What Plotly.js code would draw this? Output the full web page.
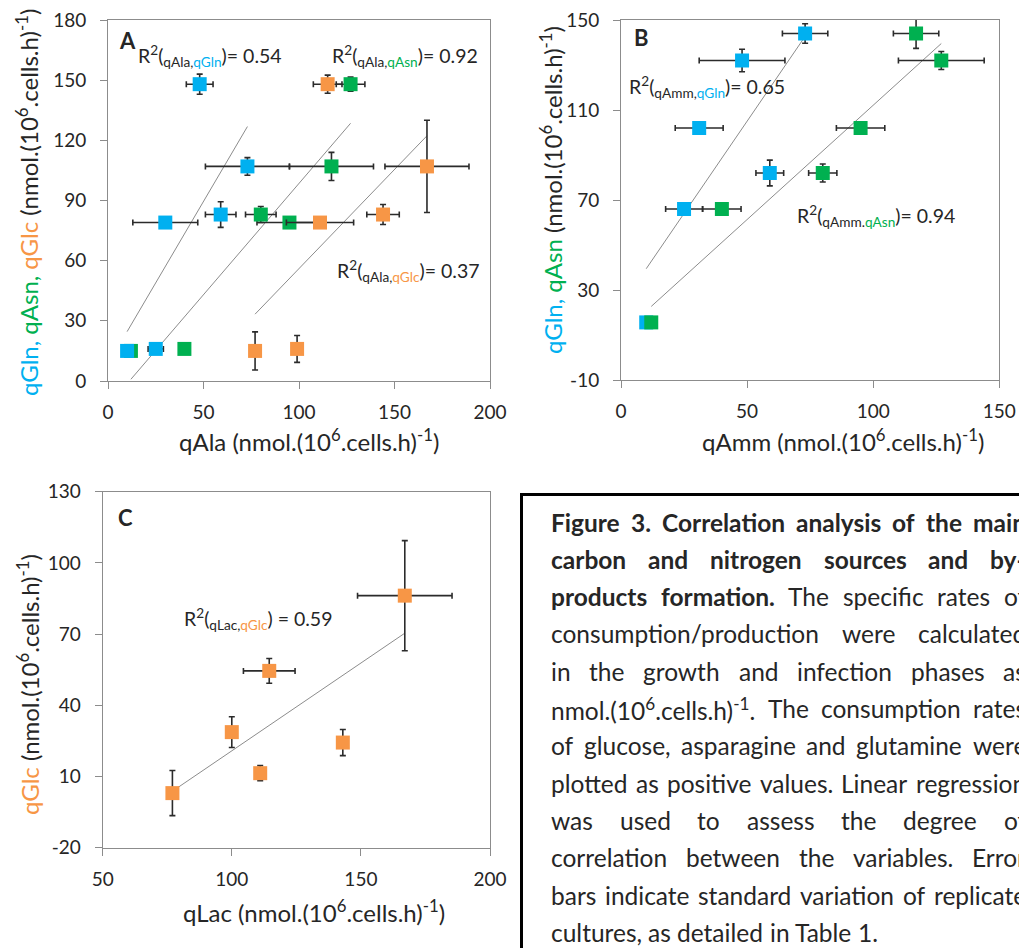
<!DOCTYPE html>
<html><head><meta charset="utf-8">
<script src="https://cdn.plot.ly/plotly-3.0.1.min.js"></script>
<style>html,body{margin:0;padding:0;background:#fff}</style>
</head><body><div id="chart" style="width:1019px;height:948px"></div>
<script>
// ---------- DATA ----------
// Panel A: qAla (x) vs qGln / qAsn / qGlc (y)
const A_gln_x  = [48, 73, 30, 59, 10, 25];
const A_gln_y  = [148, 107, 79, 83, 15, 16];
const A_gln_ex = [7, 22, 17, 8, 0, 4];
const A_gln_ey = [5, 4.4, 0, 6.4, 0, 0];

const A_asn_x  = [127, 117, 80, 95, 40, 12];
const A_asn_y  = [148, 107, 83, 79, 16, 15];
const A_asn_ex = [7.5, 22, 8, 17, 2, 0];
const A_asn_ey = [3.5, 7, 4, 0, 1, 0];

const A_glc_x  = [115, 167, 144, 111, 77, 99];
const A_glc_y  = [148, 107, 83, 79, 15, 16];
const A_glc_ex = [7.5, 22, 8.5, 17.6, 0, 2];
const A_glc_ey = [4.5, 23, 5, 1.5, 9.5, 6.7];

// Panel B: qAmm (x) vs qGln / qAsn (y)
const B_gln_x  = [73, 48, 31, 59, 25, 10];
const B_gln_y  = [144, 132, 102, 82, 66, 15.6];
const B_gln_ex = [9, 17, 9.5, 5.5, 7.3, 0];
const B_gln_ey = [4.3, 5, 0, 5.7, 0, 0];

const B_asn_x  = [117, 127, 95, 80, 40, 12];
const B_asn_y  = [144, 132, 102, 82, 66, 15.6];
const B_asn_ex = [9, 17, 9.6, 5.6, 7.6, 0];
const B_asn_ey = [6.6, 4, 0, 4, 0, 0];

// Panel C: qLac (x) vs qGlc (y)
const C_glc_x  = [77, 100, 111, 114.5, 143, 167];
const C_glc_y  = [3, 28.7, 11.4, 54.5, 24.3, 86.2];
const C_glc_ex = [0, 0, 0, 10, 2, 18.3];
const C_glc_ey = [9.5, 6.5, 3.2, 5.2, 5.5, 23.2];

// Axis ranges and tick labels
const A_xrange = [0, 200], A_yrange = [0, 180];
const B_xrange = [0, 150], B_yrange = [-10, 150];
const C_xrange = [50, 200], C_yrange = [-20, 130];
const B_yticks = [-10, 30, 70, 110, 150];
const B_ylabels = ['-10', '30', '70', '110', '150'];
const C_yticks = [-20, 10, 40, 70, 100, 130];
const C_ylabels = ['-20', '10', '40', '70', '100', '130'];

// Caption words (1 = bold)
const captionLines = [
  [['Figure', 1], ['3.', 1], ['Correlation', 1], ['analysis', 1], ['of', 1], ['the', 1], ['main', 1]],
  [['carbon', 1], ['and', 1], ['nitrogen', 1], ['sources', 1], ['and', 1], ['by-', 1]],
  [['products', 1], ['formation.', 1], ['The'], ['specific'], ['rates'], ['of']],
  [['consumption/production'], ['were'], ['calculated']],
  [['in'], ['the'], ['growth'], ['and'], ['infection'], ['phases'], ['as']],
  [['nmol.(10<sup>6</sup>.cells.h)<sup>-1</sup>.'], ['The'], ['consumption'], ['rates']],
  [['of'], ['glucose,'], ['asparagine'], ['and'], ['glutamine'], ['were']],
  [['plotted'], ['as'], ['positive'], ['values.'], ['Linear'], ['regression']],
  [['was'], ['used'], ['to'], ['assess'], ['the'], ['degree'], ['of']],
  [['correlation'], ['between'], ['the'], ['variables.'], ['Error']],
  [['bars'], ['indicate'], ['standard'], ['variation'], ['of'], ['replicate']],
  [['cultures,'], ['as'], ['detailed'], ['in'], ['Table'], ['1.']]
];

// ---------- STYLE ----------
const COL_GLN = '#00B0F0', COL_ASN = '#00B050', COL_GLC = '#F79646';
const FONT = 'Lato, "Open Sans", sans-serif';
const TXT = '#262626';
const W = 1019, H = 948;
const px = v => v / W, py = v => 1 - v / H;

function pts(x, y, ex, ey, color, xa, ya) {
  return {
    type: 'scatter', mode: 'markers', x: x, y: y, xaxis: xa, yaxis: ya,
    marker: { symbol: 'square', size: 14, color: color, line: { width: 0 } },
    error_x: { type: 'data', array: ex, visible: true, color: '#2b2b2b', thickness: 1.6, width: 3 },
    error_y: { type: 'data', array: ey, visible: true, color: '#2b2b2b', thickness: 1.6, width: 3 },
    hoverinfo: 'skip', showlegend: false, cliponaxis: false
  };
}
function trend(x, y, xa, ya) {
  const n = x.length;
  const mx = x.reduce((a, b) => a + b, 0) / n;
  const my = y.reduce((a, b) => a + b, 0) / n;
  let sxy = 0, sxx = 0;
  for (let i = 0; i < n; i++) { sxy += (x[i] - mx) * (y[i] - my); sxx += (x[i] - mx) ** 2; }
  const m = sxy / sxx, b = my - m * mx;
  const x0 = Math.min(...x), x1 = Math.max(...x);
  return {
    type: 'scatter', mode: 'lines', x: [x0, x1], y: [m * x0 + b, m * x1 + b],
    xaxis: xa, yaxis: ya, line: { color: '#8c8c8c', width: 1 },
    hoverinfo: 'skip', showlegend: false
  };
}

const traces = [
  trend(A_gln_x, A_gln_y, 'x', 'y'),
  trend(A_asn_x, A_asn_y, 'x', 'y'),
  trend(A_glc_x, A_glc_y, 'x', 'y'),
  pts(A_asn_x, A_asn_y, A_asn_ex, A_asn_ey, COL_ASN, 'x', 'y'),
  pts(A_gln_x, A_gln_y, A_gln_ex, A_gln_ey, COL_GLN, 'x', 'y'),
  pts(A_glc_x, A_glc_y, A_glc_ex, A_glc_ey, COL_GLC, 'x', 'y'),
  trend(B_gln_x, B_gln_y, 'x2', 'y2'),
  trend(B_asn_x, B_asn_y, 'x2', 'y2'),
  pts(B_gln_x, B_gln_y, B_gln_ex, B_gln_ey, COL_GLN, 'x2', 'y2'),
  pts(B_asn_x, B_asn_y, B_asn_ex, B_asn_ey, COL_ASN, 'x2', 'y2'),
  trend(C_glc_x, C_glc_y, 'x3', 'y3'),
  pts(C_glc_x, C_glc_y, C_glc_ex, C_glc_ey, COL_GLC, 'x3', 'y3')
];

const unit = ' (nmol.(10<sup>6</sup>.cells.h)<sup>-1</sup>)';
const c = (col, t) => '<span style="color:' + col + '">' + t + '</span>';

function ax(extra) {
  return Object.assign({
    showline: true, mirror: true, linecolor: '#8c8c8c', linewidth: 1,
    ticks: 'outside', ticklen: 7, tickcolor: '#8c8c8c', tickwidth: 1,
    showgrid: false, zeroline: false, fixedrange: true,
    tickfont: { family: FONT, size: 19, color: TXT }
  }, extra);
}

const layout = {
  width: W, height: H, margin: { l: 0, r: 0, t: 0, b: 0 },
  paper_bgcolor: '#fff', plot_bgcolor: '#fff', showlegend: false,
  font: { family: FONT, color: TXT, size: 19 },
  xaxis: ax({ domain: [px(108), px(490)], range: A_xrange, dtick: 50, anchor: 'y', ticklabelstandoff: 7 }),
  yaxis: ax({ domain: [py(381), py(20)], range: A_yrange, dtick: 30, anchor: 'x', ticklabelstandoff: 10 }),
  xaxis2: ax({ domain: [px(621), px(999.3)], range: B_xrange, dtick: 50, anchor: 'y2', ticklabelstandoff: 7 }),
  yaxis2: ax({ domain: [py(380), py(20)], range: B_yrange, tickmode: 'array', tickvals: B_yticks, ticktext: B_ylabels, anchor: 'x2', ticklabelstandoff: 10 }),
  xaxis3: ax({ domain: [px(102.7), px(490)], range: C_xrange, dtick: 50, tick0: 50, anchor: 'y3', ticklabelstandoff: 7 }),
  yaxis3: ax({ domain: [py(847.7), py(491.7)], range: C_yrange, tickmode: 'array', tickvals: C_yticks, ticktext: C_ylabels, anchor: 'x3', ticklabelstandoff: 10 }),
  shapes: [
    { type: 'rect', xref: 'paper', yref: 'paper', x0: px(521.5), x1: px(1030), y0: py(960), y1: py(494.5),
      line: { color: '#000', width: 3 }, fillcolor: 'rgba(0,0,0,0)' }
  ],
  annotations: []
};

function note(text, x, y, size, bold, anchor, angle) {
  layout.annotations.push({
    xref: 'paper', yref: 'paper', x: px(x), y: py(y), xanchor: anchor || 'left', yanchor: 'middle',
    text: bold ? '<b>' + text + '</b>' : text, showarrow: false, textangle: angle || 0,
    font: { family: FONT, size: size, color: TXT }
  });
}
// axis titles
const TS = 24;
note('qAla' + unit, 309, 440, TS, false, 'center');
note('qAmm' + unit, 843, 440, TS, false, 'center');
note('qLac' + unit, 314, 911, TS, false, 'center');
note(c(COL_GLN, 'qGln,') + ' ' + c(COL_ASN, 'qAsn,') + ' ' + c(COL_GLC, 'qGlc') + unit, 27, 203, TS, false, 'center', -90);
note(c(COL_GLN, 'qGln,') + ' ' + c(COL_ASN, 'qAsn') + unit, 551, 190, TS, false, 'center', -90);
note(c(COL_GLC, 'qGlc') + unit, 28, 685, TS, false, 'center', -90);

// panel letters
note('A', 117, 41, 22, true);
note('B', 632, 38, 22, true);
note('C', 116, 517, 22, true);
// R² labels
const sub = t => '<sub>' + t + '</sub>';
note('R<sup>2</sup>(' + sub('qAla,' + c(COL_GLN, 'qGln')) + ')= 0.54', 136, 56, 19.5);
note('R<sup>2</sup>(' + sub('qAla,' + c(COL_ASN, 'qAsn')) + ')= 0.92', 330, 56, 19.5);
note('R<sup>2</sup>(' + sub('qAla,' + c(COL_GLC, 'qGlc')) + ')= 0.37', 335, 271, 19.5);
note('R<sup>2</sup>(' + sub('qAmm,' + c(COL_GLN, 'qGln')) + ')= 0.65', 627, 87, 19.5);
note('R<sup>2</sup>(' + sub('qAmm.' + c(COL_ASN, 'qAsn')) + ')= 0.94', 795, 216, 19.5);
note('R<sup>2</sup>(' + sub('qLac,' + c(COL_GLC, 'qGlc')) + ') = 0.59', 182, 619, 19.5);

// caption: justified word layout measured with canvas
const CS = 24.5, CL = 549, CR = 1024;
const ctx = document.createElement('canvas').getContext('2d');
function wordW(str, bold) {
  let w = 0;
  const parts = str.split(/(<sup>.*?<\/sup>)/);
  parts.forEach(p => {
    if (!p) return;
    const m = p.match(/^<sup>(.*)<\/sup>$/);
    const s = m ? CS * 0.7 : CS;
    ctx.font = (bold ? 'bold ' : '') + s + 'px Lato';
    w += ctx.measureText(m ? m[1] : p).width;
  });
  return w;
}
captionLines.forEach((line, i) => {
  const y = 522 + 37.3 * i;
  const widths = line.map(w => wordW(w[0], !!w[1]));
  const total = widths.reduce((a, b) => a + b, 0);
  ctx.font = CS + 'px Lato';
  const normal = ctx.measureText(' ').width;
  const last = i === captionLines.length - 1;
  const gap = last ? normal : Math.max(normal * 0.7, (CR - CL - total) / (line.length - 1));
  let x = CL;
  line.forEach((w, j) => { note(w[0], x, y, CS, !!w[1]); x += widths[j] + gap; });
});

Plotly.newPlot('chart', traces, layout, { staticPlot: true, displayModeBar: false });
</script>
</body></html>
